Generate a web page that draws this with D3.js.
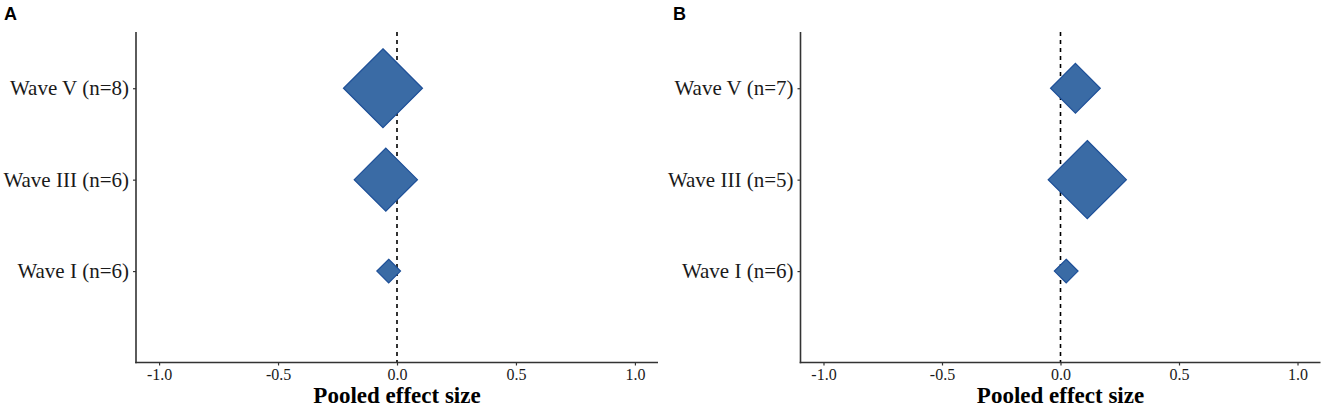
<!DOCTYPE html>
<html>
<head>
<meta charset="utf-8">
<script src="https://cdn.jsdelivr.net/npm/d3@7"></script>
<style>
  html, body { margin: 0; padding: 0; background: #fff; }
  svg { display: block; }
</style>
</head>
<body>
<svg id="chart" width="1325" height="407"></svg>
<script>
// ---- data ----
const categories = ["Wave I", "Wave III", "Wave V"];
const panelLabels = ["A", "B"];
const countsA = [6, 6, 8];
const countsB = [6, 5, 7];
const effectA = [-0.035, -0.047, -0.059];
const effectB = [0.024, 0.113, 0.063];
const weightA = [0.30, 0.80, 1.00];
const weightB = [0.30, 0.99, 0.63];
const xTicks = [-1.0, -0.5, 0.0, 0.5, 1.0];
const xTitle = "Pooled effect size";

const svg = d3.select("#chart");

const panels = [
  { label: panelLabels[0], counts: countsA, effect: effectA, weight: weightA, left: 136, right: 658, labelX: 4 },
  { label: panelLabels[1], counts: countsB, effect: effectB, weight: weightB, left: 800.5, right: 1320.5, labelX: 673 }
];

const plotTop = 32, plotBottom = 362.5;
const sizeScale = d3.scaleLinear().domain([0, 1]).range([0, 39.5]);
const serif = "'Liberation Serif', 'Times New Roman', serif";

panels.forEach(p => {
  const g = svg.append("g");
  const x = d3.scaleLinear().domain([-1.097, 1.097]).range([p.left, p.right]);
  const y = d3.scaleLinear().domain([0, 3.615]).range([plotBottom, plotTop]);

  const rows = categories.map((c, i) => ({
    name: `${c} (n=${p.counts[i]})`,
    pos: i + 1,
    effect: p.effect[i],
    weight: p.weight[i]
  }));

  // zero reference line
  g.append("line")
    .attr("x1", x(0)).attr("x2", x(0))
    .attr("y1", plotTop).attr("y2", plotBottom)
    .attr("stroke", "#000").attr("stroke-width", 1.6)
    .attr("stroke-dasharray", "4,4");

  // diamonds
  g.selectAll("path.diamond").data(rows).enter().append("path")
    .attr("class", "diamond")
    .attr("d", d => {
      const cx = x(d.effect), cy = y(d.pos), r = sizeScale(d.weight);
      return `M${cx},${cy - r}L${cx + r},${cy}L${cx},${cy + r}L${cx - r},${cy}Z`;
    })
    .attr("fill", "#3a6ba5")
    .attr("stroke", "#1d4f98")
    .attr("stroke-width", 1.2);

  // x axis
  const xAxis = d3.axisBottom(x).tickValues(xTicks).tickSize(3).tickPadding(3)
    .tickFormat(d => d3.format(".1f")(d).replace("−", "-"));
  const xg = g.append("g").attr("transform", `translate(0,${plotBottom})`).call(xAxis);
  xg.select(".domain").remove();
  xg.append("line").attr("x1", p.left - 0.8).attr("x2", p.right).attr("y1", 0).attr("y2", 0)
    .attr("stroke", "#333").attr("stroke-width", 1.6);
  xg.selectAll(".tick line").attr("stroke", "#333").attr("stroke-width", 1.2);
  xg.selectAll(".tick text").attr("fill", "#1a1a1a")
    .style("font-family", serif).style("font-size", "16px");

  // y axis
  const yAxis = d3.axisLeft(y).tickValues(rows.map(r => r.pos)).tickSize(3).tickPadding(4)
    .tickFormat((d, i) => rows[i].name);
  const yg = g.append("g").attr("transform", `translate(${p.left},0)`).call(yAxis);
  yg.select(".domain").remove();
  yg.append("line").attr("x1", 0).attr("x2", 0).attr("y1", plotTop).attr("y2", plotBottom + 0.8)
    .attr("stroke", "#333").attr("stroke-width", 1.6);
  yg.selectAll(".tick line").attr("stroke", "#333").attr("stroke-width", 1.2);
  yg.selectAll(".tick text").attr("fill", "#1a1a1a")
    .style("font-family", serif).style("font-size", "21px");

  // x title
  g.append("text")
    .attr("x", (p.left + p.right) / 2).attr("y", 403)
    .attr("text-anchor", "middle")
    .style("font-family", serif).style("font-size", "23px").style("font-weight", "bold")
    .attr("fill", "#000")
    .text(xTitle);

  // panel label
  g.append("text")
    .attr("x", p.labelX).attr("y", 20)
    .style("font-family", "'Liberation Sans', Arial, sans-serif")
    .style("font-size", "18px").style("font-weight", "bold")
    .attr("fill", "#000")
    .text(p.label);
});
</script>
</body>
</html>
